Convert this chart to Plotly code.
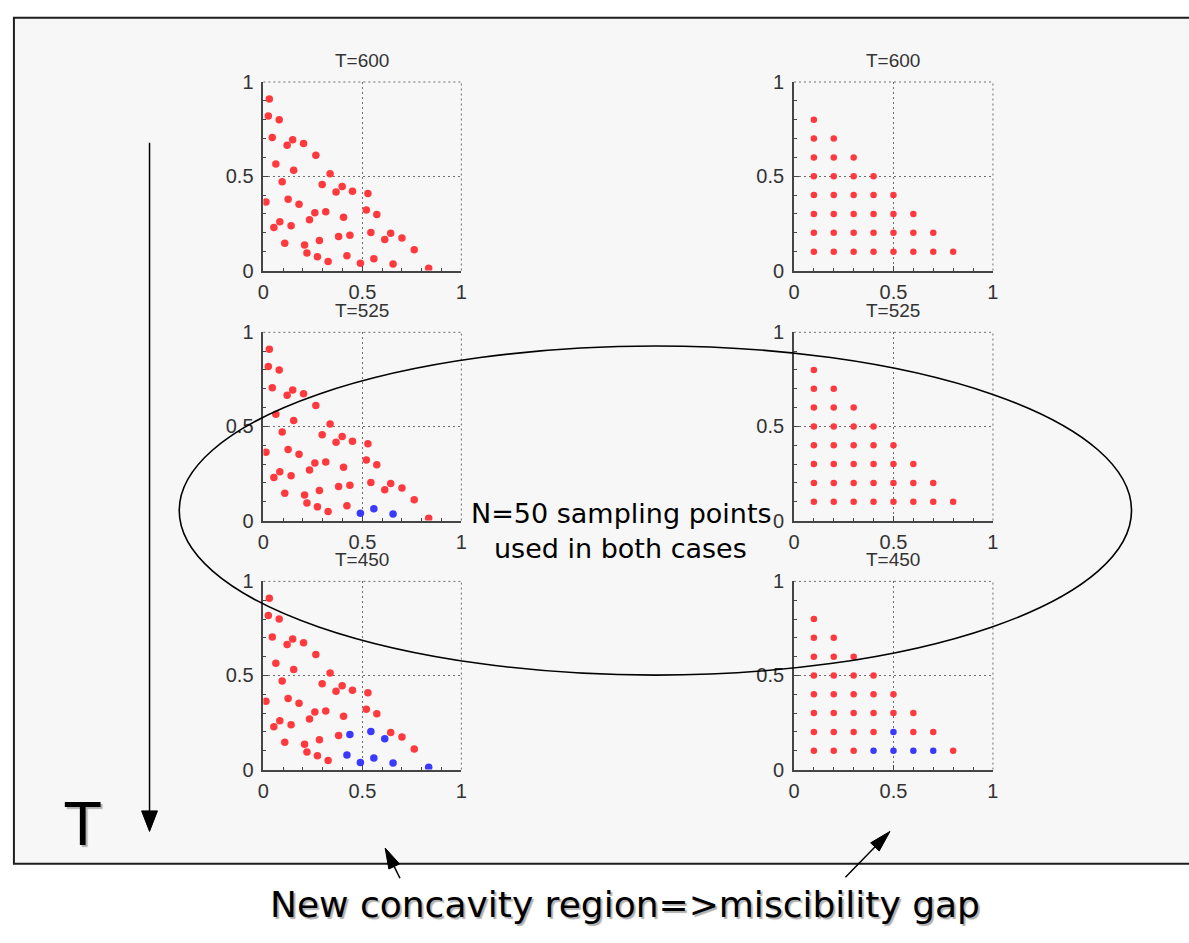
import plotly.graph_objects as go

W, H = 1189, 943

# ---------------- data ----------------
temps = ["T=600", "T=525", "T=450"]

# random (quasi-random) sampling points, left column
rand_x = [0.030, 0.025, 0.080, 0.045, 0.120, 0.148, 0.203, 0.265, 0.063, 0.153,
          0.337, 0.095, 0.297, 0.398, 0.367, 0.450, 0.528, 0.013, 0.125, 0.180,
          0.520, 0.260, 0.315, 0.573, 0.405, 0.083, 0.053, 0.233, 0.140, 0.543,
          0.643, 0.613, 0.700, 0.283, 0.380, 0.437, 0.108, 0.208, 0.220, 0.762,
          0.273, 0.422, 0.327, 0.558, 0.490, 0.655, 0.835]
rand_y = [0.910, 0.819, 0.800, 0.705, 0.665, 0.694, 0.674, 0.611, 0.565, 0.532,
          0.513, 0.471, 0.456, 0.446, 0.416, 0.421, 0.408, 0.363, 0.378, 0.352,
          0.321, 0.306, 0.311, 0.297, 0.283, 0.259, 0.228, 0.269, 0.238, 0.202,
          0.197, 0.164, 0.173, 0.159, 0.181, 0.187, 0.145, 0.135, 0.093, 0.110,
          0.073, 0.078, 0.048, 0.062, 0.038, 0.035, 0.012]
# indices of points flagged (blue) at each temperature
rand_blue = [[], [43, 44, 45], [29, 31, 35, 41, 43, 44, 45, 46]]

# uniform grid sampling points, right column
uni_x = [0.1, 0.1, 0.1, 0.1, 0.1, 0.1, 0.1, 0.1,
         0.2, 0.2, 0.2, 0.2, 0.2, 0.2, 0.2,
         0.3, 0.3, 0.3, 0.3, 0.3, 0.3,
         0.4, 0.4, 0.4, 0.4, 0.4,
         0.5, 0.5, 0.5, 0.5,
         0.6, 0.6, 0.6,
         0.7, 0.7,
         0.8]
uni_y = [0.1, 0.2, 0.3, 0.4, 0.5, 0.6, 0.7, 0.8,
         0.1, 0.2, 0.3, 0.4, 0.5, 0.6, 0.7,
         0.1, 0.2, 0.3, 0.4, 0.5, 0.6,
         0.1, 0.2, 0.3, 0.4, 0.5,
         0.1, 0.2, 0.3, 0.4,
         0.1, 0.2, 0.3,
         0.1, 0.2,
         0.1]
uni_blue = [[], [], [21, 26, 27, 30, 33]]

tick_vals = [0, 0.5, 1]
tick_text = ["0", "0.5", "1"]

RED = "#ff3a3f"
BLUE = "#3a3aff"

# ---------------- layout helpers ----------------
def px(x):
    return x / W


def py(y):
    return 1 - y / H


col_x = [(260, 460), (796, 997)]
row_y = [(72.7, 265.7), (329, 521.7), (584, 776.7)]

fig = go.Figure()
layout = dict(
    width=W, height=H,
    margin=dict(l=0, r=0, t=0, b=0),
    paper_bgcolor="white",
    plot_bgcolor="rgba(0,0,0,0)",
    showlegend=False,
)

shapes = []
annotations = []

# background slide box
shapes.append(dict(type="rect", xref="paper", yref="paper", layer="below",
                   x0=px(8), x1=px(1200), y0=py(873), y1=py(7),
                   fillcolor="#f7f7f7", line=dict(color="#1e1e1e", width=2)))

tick_font = dict(family="Liberation Sans, Arial, sans-serif", size=20, color="#333333")

k = 0
for r in range(3):
    for c in range(2):
        k += 1
        xa = "xaxis" if k == 1 else f"xaxis{k}"
        ya = "yaxis" if k == 1 else f"yaxis{k}"
        xr = "x" if k == 1 else f"x{k}"
        yr = "y" if k == 1 else f"y{k}"
        x0p, x1p = col_x[c]
        y0p, y1p = row_y[r]
        common = dict(range=[0, 1], showline=True, linecolor="#454545", linewidth=1.6,
                      tickvals=tick_vals, ticktext=tick_text, ticks="inside",
                      ticklen=5, tickcolor="#454545", tickwidth=1,
                      showgrid=True, gridcolor="#6e6e6e", griddash="2px,3px",
                      gridwidth=1, zeroline=False, tickfont=tick_font,
                      minor=dict(dtick=0.1, ticks="inside", ticklen=3,
                                 tickcolor="#454545", showgrid=False),
                      fixedrange=True)
        layout[xa] = dict(common, domain=[px(x0p), px(x1p)], anchor=yr,
                          ticklabelstandoff=3)
        layout[ya] = dict(common, domain=[py(y1p), py(y0p)], anchor=xr,
                          ticklabelstandoff=4)
        # dotted top and right frame
        shapes.append(dict(type="line", xref=f"{xr} domain", yref=f"{yr} domain",
                           x0=0, x1=1, y0=1, y1=1, layer="above",
                           line=dict(color="#6e6e6e", width=1, dash="2px,3px")))
        shapes.append(dict(type="line", xref=f"{xr} domain", yref=f"{yr} domain",
                           x0=1, x1=1, y0=0, y1=1, layer="above",
                           line=dict(color="#6e6e6e", width=1, dash="2px,3px")))
        # subplot title
        annotations.append(dict(text=temps[r], xref="paper", yref="paper",
                                x=px((x0p + x1p) / 2), y=py(y0p - 22),
                                xanchor="center", yanchor="middle", showarrow=False,
                                font=dict(family="Liberation Sans, Arial, sans-serif",
                                          size=19, color="#333333")))
        if c == 0:
            xs, ys, blue, msize = rand_x, rand_y, rand_blue[r], 7.5
        else:
            xs, ys, blue, msize = uni_x, uni_y, uni_blue[r], 6.5
        red_x = [xs[i] for i in range(len(xs)) if i not in blue]
        red_y = [ys[i] for i in range(len(ys)) if i not in blue]
        fig.add_trace(go.Scatter(x=red_x, y=red_y, mode="markers", xaxis=xr, yaxis=yr,
                                 marker=dict(color=RED, size=msize, line=dict(width=0)),
                                 hoverinfo="skip"))
        if blue:
            fig.add_trace(go.Scatter(x=[xs[i] for i in blue], y=[ys[i] for i in blue],
                                     mode="markers", xaxis=xr, yaxis=yr,
                                     marker=dict(color=BLUE, size=msize, line=dict(width=0)),
                                     hoverinfo="skip"))

# ellipse
shapes.append(dict(type="circle", xref="paper", yref="paper", layer="above",
                   x0=px(175), x1=px(1137), y0=py(680), y1=py(343),
                   line=dict(color="black", width=1.6)))


def arrow(tail, tip, head_len, half_w, width=1.5):
    (tx, ty), (hx, hy) = tail, tip
    dx, dy = hx - tx, hy - ty
    L = (dx * dx + dy * dy) ** 0.5
    ux, uy = dx / L, dy / L
    bx, by = hx - ux * head_len, hy - uy * head_len
    nx, ny = -uy, ux
    shapes.append(dict(type="line", xref="paper", yref="paper",
                       x0=px(tx), y0=py(ty), x1=px(bx + ux), y1=py(by + uy),
                       line=dict(color="black", width=width)))
    p1 = (bx + nx * half_w, by + ny * half_w)
    p2 = (bx - nx * half_w, by - ny * half_w)
    path = (f"M {px(hx)},{py(hy)} L {px(p1[0])},{py(p1[1])} "
            f"L {px(p2[0])},{py(p2[1])} Z")
    shapes.append(dict(type="path", xref="paper", yref="paper", path=path,
                       fillcolor="black", line=dict(color="black", width=1)))


arrow((145, 135), (145, 840), 21, 8)
arrow((398, 888), (383, 857), 21, 6)
arrow((848, 887), (893, 840), 22, 6)

slide_font = "DejaVu Sans, Verdana, sans-serif"
annotations.append(dict(text="N=50 sampling points", xref="paper", yref="paper",
                        x=px(622), y=py(514), xanchor="center", yanchor="middle",
                        showarrow=False, font=dict(family=slide_font, size=27, color="black")))
annotations.append(dict(text="used in both cases", xref="paper", yref="paper",
                        x=px(621), y=py(550), xanchor="center", yanchor="middle",
                        showarrow=False, font=dict(family=slide_font, size=27, color="black")))
annotations.append(dict(text="T", xref="paper", yref="paper",
                        x=px(77), y=py(833), xanchor="center", yanchor="middle",
                        showarrow=False,
                        font=dict(family=slide_font, size=58, color="black",
                                  shadow="2px 2px 1px #b0b0b0")))
annotations.append(dict(text="New concavity region=>miscibility gap", xref="paper",
                        yref="paper", x=px(625), y=py(915), xanchor="center",
                        yanchor="middle", showarrow=False,
                        font=dict(family=slide_font, size=36, color="black",
                                  shadow="2px 2px 1px #b0b0b0")))

layout["shapes"] = shapes
layout["annotations"] = annotations
fig.update_layout(**layout)
fig.write_html("out.html")
